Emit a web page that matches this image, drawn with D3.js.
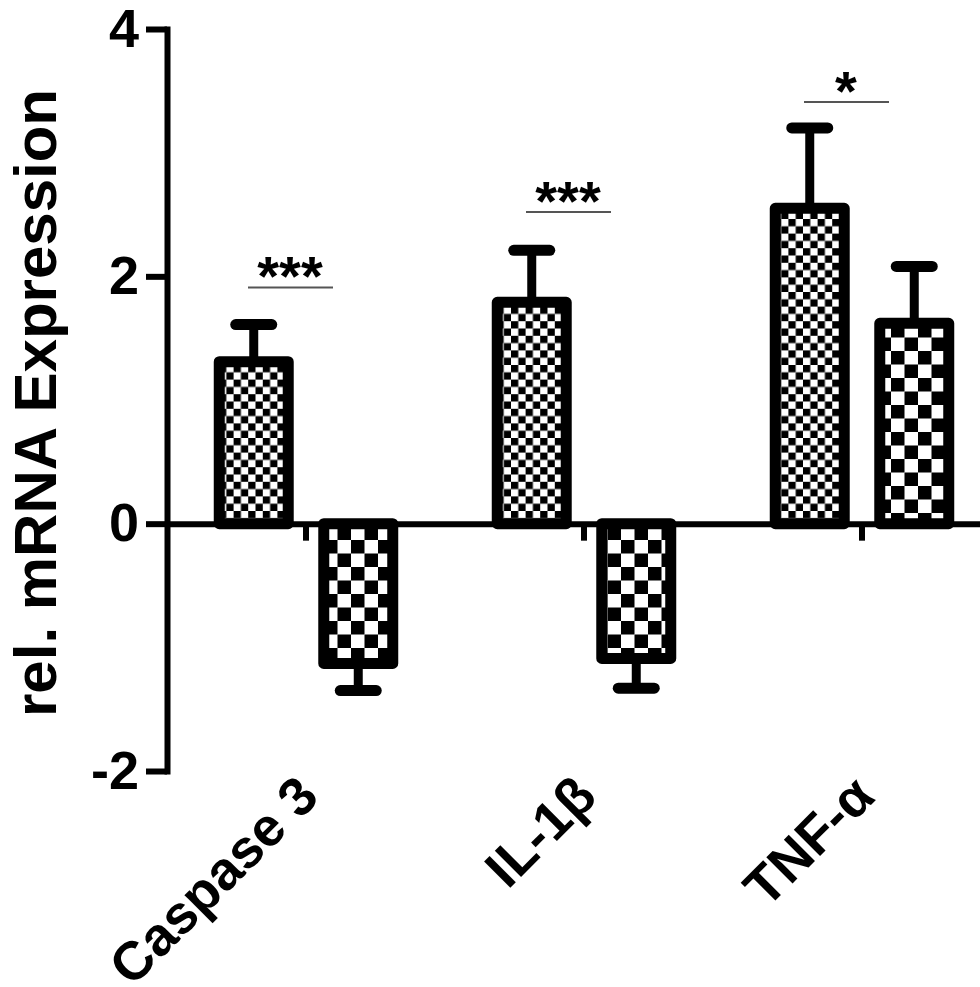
<!DOCTYPE html>
<meta charset="utf-8">
<script src="https://d3js.org/d3.v7.min.js"></script>
<style>
  body { margin: 0; background: #fff; }
  text { font-family: "Liberation Sans", Arial, sans-serif; font-weight: bold; }
</style>
<body>
<div id="chart"></div>
<script>

var width = 980
var height = 987

// data
var categories = ["Caspase 3", "IL-1\u03b2", "TNF-\u03b1"]
var seriesKeys = ["s1", "s2"]
var series1Values = [1.31, 1.79, 2.55]
var series1Errors = [0.30, 0.42, 0.65]
var series2Values = [-1.13, -1.09, 1.62]
var series2Errors = [0.22, 0.24, 0.46]
var sigLabels = ["***", "***", "*"]
var sigHeights = [1.91, 2.52, 3.41]
var yTicks = [-2, 0, 2, 4]

var bars = []
categories.forEach(function(c, i){
  bars.push({cat: c, key: "s1", value: series1Values[i], err: series1Errors[i]})
  bars.push({cat: c, key: "s2", value: series2Values[i], err: series2Errors[i]})
})

var svg = d3.select("#chart")
  .append("svg")
    .attr("width", width)
    .attr("height", height)

var y = d3.scaleLinear()
  .domain([-2, 4])
  .range([771, 29])

var x0 = d3.scaleBand()
  .domain(categories)
  .range([167, 1001])

var x1 = d3.scaleBand()
  .domain(seriesKeys)
  .range([0, x0.bandwidth()])
  .paddingInner(0.34)
  .paddingOuter(0.5)

// checker patterns
var defs = svg.append("defs")
function checker(id, s) {
  var p = defs.append("pattern")
    .attr("id", id)
    .attr("patternUnits", "userSpaceOnUse")
    .attr("width", 2 * s)
    .attr("height", 2 * s)
  p.append("rect").attr("width", 2 * s).attr("height", 2 * s).attr("fill", "#fff")
  p.append("rect").attr("width", s).attr("height", s).attr("fill", "#000")
  p.append("rect").attr("x", s).attr("y", s).attr("width", s).attr("height", s).attr("fill", "#000")
}
checker("small", 7.3)
checker("big", 13.5)

// error bars
var eb = svg.append("g")
bars.forEach(function(d){
  var cx = x0(d.cat) + x1(d.key) + x1.bandwidth() / 2
  var end = d.value >= 0 ? d.value + d.err : d.value - d.err
  eb.append("line")
    .attr("x1", cx).attr("x2", cx)
    .attr("y1", y(d.value)).attr("y2", y(end))
    .attr("stroke", "#000").attr("stroke-width", 9)
  eb.append("line")
    .attr("x1", cx - 18).attr("x2", cx + 18)
    .attr("y1", y(end)).attr("y2", y(end))
    .attr("stroke", "#000").attr("stroke-width", 11)
    .attr("stroke-linecap", "round")
})

// bars
svg.append("g")
  .selectAll("rect")
  .data(bars)
  .enter()
  .append("rect")
    .attr("x", function(d){ return x0(d.cat) + x1(d.key) })
    .attr("y", function(d){ return y(Math.max(0, d.value)) })
    .attr("width", x1.bandwidth())
    .attr("height", function(d){ return Math.abs(y(d.value) - y(0)) })
    .attr("fill", function(d){ return d.key == "s1" ? "url(#small)" : "url(#big)" })
    .attr("stroke", "#000")
    .attr("stroke-width", 11)
    .attr("stroke-linejoin", "round")

// x axis at zero
var xAxis = svg.append("g")
  .attr("transform", "translate(0," + y(0) + ")")
  .call(d3.axisBottom(x0).tickSize(17).tickSizeOuter(0).tickFormat(""))
xAxis.select(".domain").attr("stroke-width", 6)
xAxis.selectAll(".tick line").attr("stroke-width", 6)

// y axis
var yAxis = svg.append("g")
  .attr("transform", "translate(167,0)")
  .call(d3.axisLeft(y).tickValues(yTicks).tickSize(21).tickSizeOuter(0).tickPadding(7)
    .tickFormat(function(d){ return String(d) }))
yAxis.select(".domain").attr("stroke-width", 6).attr("stroke-linecap", "square")
yAxis.selectAll(".tick line").attr("stroke-width", 6)
yAxis.selectAll(".tick text")
  .attr("font-size", 54)
  .attr("font-family", "Liberation Sans, Arial, sans-serif")
  .attr("font-weight", "bold")
  .attr("fill", "#000")

// category labels
svg.append("g")
  .selectAll("text")
  .data(categories)
  .enter()
  .append("text")
    .attr("transform", function(d){
      var cx = x0(d) + x0.bandwidth() / 2
      return "translate(" + (cx + 15) + ",799) rotate(-45)"
    })
    .attr("text-anchor", "end")
    .attr("font-size", 54)
    .text(function(d){ return d })

// significance
var sig = svg.append("g")
categories.forEach(function(c, i){
  var cx = x0(c) + x0.bandwidth() / 2
  sig.append("line")
    .attr("x1", cx - 58).attr("x2", cx + 27)
    .attr("y1", y(sigHeights[i])).attr("y2", y(sigHeights[i]))
    .attr("stroke", "#555").attr("stroke-width", 2)
  sig.append("text")
    .attr("x", cx - 16)
    .attr("y", y(sigHeights[i]) + 8)
    .attr("text-anchor", "middle")
    .attr("font-size", 56)
    .text(sigLabels[i])
})

// y title
svg.append("text")
  .attr("transform", "translate(56,403) rotate(-90)")
  .attr("text-anchor", "middle")
  .attr("font-size", 60)
  .text("rel. mRNA Expression")

</script>
</body>
